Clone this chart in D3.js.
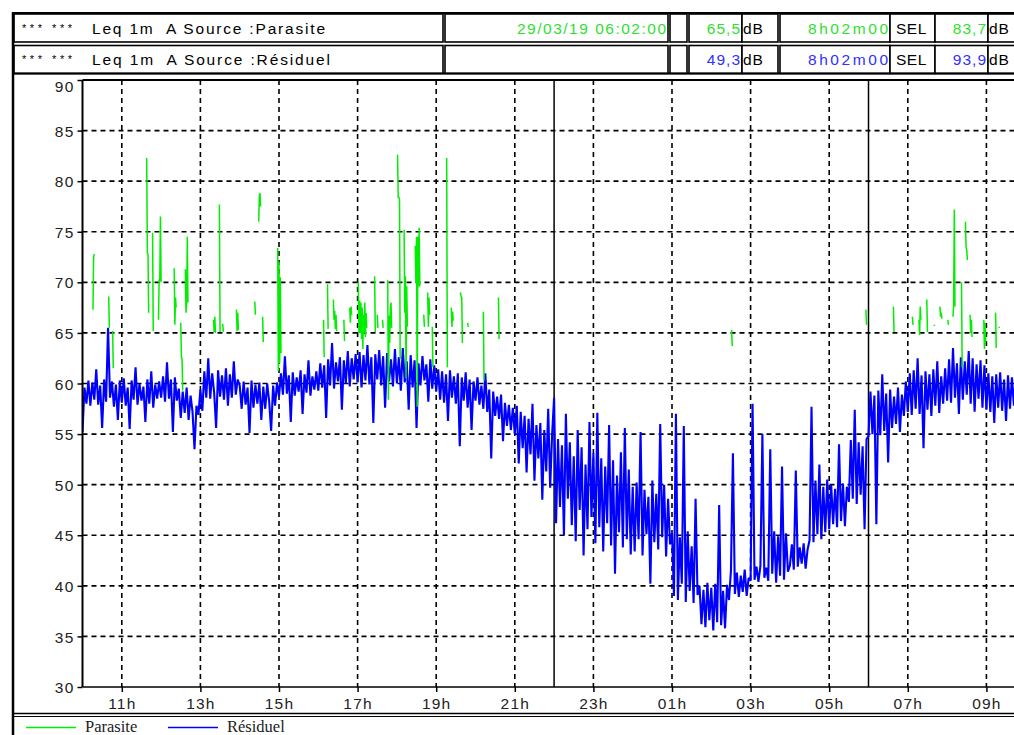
<!DOCTYPE html>
<html>
<head>
<meta charset="utf-8">
<script src="https://cdn.jsdelivr.net/npm/d3@7"></script>
<style>
body { margin: 0; background: #fff; }
svg { display: block; }
text { font-family: "Liberation Sans", Arial, sans-serif; }
</style>
</head>
<body>
<svg id="chart" width="1014" height="735"></svg>
<script>
// Résiduel : Leq read every 3 minutes from 10:00 (20 values per hour)
const residuelStep = 3;
const residuelLevel = [
    55.2, 59.6, 58.0, 60.3, 57.8, 60.1, 58.4, 61.4, 57.9, 59.8, 55.6, 60.4, 58.2, 65.5, 58.6, 60.2, 57.7, 59.9, 56.4, 60.3, // 10h
    58.1, 60.5, 57.8, 59.6, 55.5, 60.3, 58.4, 61.6, 57.9, 60.0, 58.3, 59.7, 56.2, 60.4, 58.0, 61.2, 57.6, 59.9, 58.5, 60.2, // 11h
    58.6, 60.7, 58.2, 62.1, 58.5, 60.4, 55.2, 60.6, 58.3, 59.5, 56.6, 59.2, 57.1, 59.6, 56.4, 58.8, 57.2, 53.5, 57.8, 56.9, // 12h
    59.4, 57.3, 61.2, 58.6, 62.5, 58.5, 61.0, 59.1, 55.6, 61.3, 58.7, 60.8, 58.4, 61.5, 57.8, 60.9, 58.6, 62.2, 58.9, 60.4, // 13h
    59.8, 57.5, 60.2, 57.9, 59.6, 55.1, 60.3, 57.6, 59.9, 58.0, 60.1, 56.4, 59.7, 57.5, 60.0, 58.2, 55.3, 59.8, 57.8, 60.1, // 14h
    58.7, 61.0, 58.9, 62.7, 59.0, 60.8, 56.2, 61.1, 58.8, 60.6, 59.2, 61.3, 57.0, 60.9, 59.1, 62.3, 58.8, 60.7, 59.4, 61.2, // 15h
    59.3, 62.0, 59.6, 61.8, 56.6, 62.4, 59.8, 64.0, 59.5, 62.1, 60.2, 62.6, 57.4, 62.3, 60.0, 63.2, 59.7, 62.5, 60.4, 62.9, // 16h
    60.1, 63.1, 59.6, 62.8, 60.3, 63.8, 59.9, 62.6, 56.1, 62.9, 60.4, 63.3, 59.8, 62.7, 57.6, 63.0, 60.2, 62.4, 59.7, 63.4, // 17h
    60.0, 62.6, 59.3, 63.5, 60.1, 62.2, 57.4, 62.8, 59.6, 62.3, 55.6, 62.0, 59.8, 62.7, 60.3, 61.9, 58.2, 62.4, 59.5, 61.8, // 18h
    59.2, 61.4, 58.4, 61.2, 58.1, 60.9, 56.3, 61.3, 58.6, 60.7, 58.0, 61.0, 53.8, 60.6, 58.3, 61.1, 57.6, 60.4, 55.4, 60.2, // 19h
    58.3, 60.6, 57.9, 59.8, 57.5, 61.0, 57.2, 59.4, 52.6, 59.2, 56.8, 58.7, 56.5, 58.9, 54.3, 58.1, 55.8, 57.9, 55.4, 57.6, // 20h
    55.0, 57.8, 52.1, 57.2, 53.6, 56.8, 51.2, 56.5, 53.0, 58.0, 50.4, 55.9, 52.6, 56.1, 48.5, 55.4, 51.3, 57.5, 49.7, 55.0, // 21h
    58.6, 46.2, 54.5, 47.8, 53.9, 45.0, 57.0, 48.6, 54.2, 46.0, 52.8, 44.4, 55.4, 47.5, 53.7, 43.0, 52.0, 45.6, 56.2, 46.8, // 22h
    53.1, 44.2, 57.1, 45.8, 52.6, 43.4, 51.8, 46.2, 55.9, 44.0, 52.4, 41.2, 50.9, 45.3, 53.2, 43.8, 55.6, 44.6, 51.5, 43.1, // 23h
    49.8, 43.4, 50.2, 44.6, 55.2, 43.0, 49.5, 45.1, 48.8, 40.2, 50.4, 44.3, 49.1, 43.6, 56.0, 44.8, 50.0, 42.9, 48.6, 44.1, // 00h
    45.2, 39.0, 57.0, 38.6, 44.8, 40.2, 55.8, 38.4, 45.4, 39.5, 43.9, 38.3, 48.6, 39.1, 40.0, 36.2, 39.6, 35.9, 40.3, 36.6, // 01h
    39.8, 35.6, 40.2, 36.4, 48.0, 36.1, 39.5, 35.8, 40.1, 38.6, 41.5, 53.1, 39.2, 41.3, 38.9, 41.0, 39.4, 41.6, 39.0, 40.8, // 02h
    40.5, 58.0, 40.6, 41.9, 40.4, 42.0, 55.0, 40.8, 41.8, 40.5, 53.5, 41.2, 45.4, 40.3, 44.9, 41.0, 51.8, 40.6, 45.2, 41.4, // 03h
    42.0, 44.1, 41.6, 51.4, 41.9, 43.8, 42.2, 44.2, 41.7, 43.6, 44.5, 57.7, 44.3, 50.4, 45.1, 52.0, 44.6, 49.8, 45.3, 50.5, // 04h
    45.6, 50.0, 46.1, 49.6, 45.8, 54.0, 46.4, 50.1, 45.9, 49.8, 48.3, 54.4, 48.6, 57.4, 48.1, 54.2, 49.0, 53.8, 45.6, 54.5, // 05h
    54.8, 59.2, 55.0, 58.8, 46.1, 59.3, 54.9, 60.9, 55.3, 59.0, 52.2, 59.4, 55.6, 58.7, 56.0, 59.6, 55.2, 58.9, 56.8, 60.2, // 06h
    57.2, 61.0, 56.9, 61.3, 57.5, 62.5, 57.0, 60.8, 53.6, 61.2, 57.4, 60.9, 56.8, 61.4, 57.8, 62.2, 57.1, 60.7, 58.0, 61.5, // 07h
    58.3, 62.4, 58.1, 63.5, 58.6, 62.0, 57.0, 62.6, 58.4, 62.2, 58.9, 63.2, 58.0, 62.5, 57.2, 61.9, 58.5, 62.3, 57.6, 61.8, // 08h
    57.4, 61.0, 57.2, 60.7, 56.1, 60.9, 57.6, 61.1, 57.3, 60.4, 56.3, 60.8, 57.5, 60.6, 57.8, 61.0, 57.2, 60.5, 57.9, 60.3  // 09h
];

// Parasite : runs of 1 minute values, [start minute after 10:00, values]
const parasiteRuns = [
    [16, [67.3, 72.5, 72.8]],
    [40, [68.6, 65.5]],
    [46, [65.2, 61.5]],
    [98, [82.3, 72.9, 72.8, 67.0]],
    [107, [74.9, 65.2]],
    [116, [66.3, 70.2, 70.2, 76.5, 70.0]],
    [140, [71.4, 65.8, 68.5, 67.5]],
    [150, [66.0, 62.6, 62.4, 59.3]],
    [157, [71.3, 67.0, 68.0, 74.5, 68.0]],
    [200, [66.3, 65.1, 66.6, 65.0]],
    [209, [77.7, 65.1]],
    [214, [65.9, 65.1]],
    [235, [67.3, 65.2, 67.0, 65.3]],
    [263, [68.1, 66.8]],
    [269, [76.0, 78.6, 78.8, 77.5]],
    [275, [66.6, 64.1]],
    [298, [73.4, 61.2, 72.0, 62.0, 70.5, 63.0]],
    [368, [66.3, 62.6]],
    [374, [69.8, 65.4]],
    [383, [68.3, 66.3, 67.2, 65.4, 66.8, 65.2]],
    [399, [66.3, 64.2]],
    [408, [67.5, 66.0, 67.6, 66.8]],
    [421, [70.0, 65.0, 68.2, 65.0, 68.0, 64.4, 67.5, 63.4, 66.8, 65.0, 68.0, 64.6, 67.0, 65.5]],
    [446, [70.6, 65.1]],
    [450, [66.8, 65.5]],
    [458, [66.3, 65.5]],
    [466, [70.2, 58.4, 66.7, 64.0, 67.4, 68.0, 65.5]],
    [481, [82.6, 78.4, 78.4, 78.2, 62.4]],
    [491, [75.2, 67.0, 70.6, 60.5, 69.6, 65.6]],
    [508, [73.6, 70.0, 74.5, 57.7, 74.5, 69.6, 75.4, 69.6]],
    [521, [66.8, 65.6]],
    [527, [69.0, 65.6, 68.5, 66.8]],
    [534, [65.6, 61.6]],
    [556, [82.3, 61.6]],
    [563, [67.5, 65.6, 67.1, 66.2]],
    [577, [69.0, 68.6, 68.5, 64.0]],
    [588, [66.0, 65.6]],
    [612, [67.1, 60.3]],
    [635, [68.5, 64.4]],
    [991, [65.3, 63.7]],
    [1196, [67.3, 65.8]],
    [1238, [67.6, 65.1]],
    [1267, [66.6, 65.8]],
    [1277, [66.3, 64.8, 67.6, 66.3]],
    [1289, [68.3, 65.1]],
    [1300, [65.8, 65.7]],
    [1309, [67.6, 66.6, 67.0, 66.4]],
    [1321, [66.3, 65.8]],
    [1329, [66.6, 67.8, 77.2, 67.6]],
    [1342, [70.0, 61.6]],
    [1348, [76.0, 73.4, 73.2, 72.2]],
    [1355, [66.8, 65.0, 66.3, 64.6]],
    [1376, [66.3, 63.4, 66.0, 64.1]],
    [1394, [67.0, 63.5]],
    [1399, [65.6, 65.5]]
];

const tickHours = [11, 13, 15, 17, 19, 21, 23, 1, 3, 5, 7, 9];
const tickLabels = ["11h", "13h", "15h", "17h", "19h", "21h", "23h", "01h", "03h", "05h", "07h", "09h"];
const nightHours = [22, 6];
const levelTicks = [30, 35, 40, 45, 50, 55, 60, 65, 70, 75, 80, 85, 90];

// header table
const sourceNames = ["Parasite", "Résiduel"];
const periodStart = ["29/03/19 06:02:00", ""];
const leqValues = ["65,5", "49,3"];
const durations = ["8h02m00", "8h02m00"];
const selValues = ["83,7", "93,9"];

const green = "#00ee00", blue = "#0000ff";
const textGreen = "#2fe02f", textBlue = "#3030ff";

const svg = d3.select("#chart");

function minutesOf(h) {
    return ((h - 10 + 24) % 24) * 60;
}

const x = d3.scaleLinear().domain([0, 1440]).range([82.5, 82.5 + 24 * 39.3]);
const y = d3.scaleLinear().domain([30, 90]).range([687, 80]);

// ---- header table
const rowTop = [14, 45.5], rowH = 28;
const cells = [
    {x0: 14, x1: 443}, {x0: 445, x1: 668}, {x0: 670, x1: 687},
    {x0: 689, x1: 742}, {x0: 742, x1: 778}, {x0: 780, x1: 890},
    {x0: 890, x1: 935}, {x0: 935, x1: 988}, {x0: 988, x1: 1030}
];

sourceNames.forEach(function(name, r) {
    const g = svg.append("g").attr("transform", "translate(0," + rowTop[r] + ")");
    const col = r == 0 ? textGreen : textBlue;
    g.selectAll("rect").data(cells).enter().append("rect")
        .attr("x", d => d.x0).attr("y", 0)
        .attr("width", d => d.x1 - d.x0).attr("height", rowH)
        .attr("fill", "#fff").attr("stroke", "#000").attr("stroke-width", 1.6);
    const by = 19.5;
    g.append("text").attr("x", 22).attr("y", by - 2).style("font-size", "11px")
        .attr("textLength", 50).attr("lengthAdjust", "spacing").text("*** ***");
    g.append("text").attr("x", 92).attr("y", by).style("font-size", "15.5px").style("white-space", "pre")
        .attr("textLength", r == 0 ? 233 : 238).attr("lengthAdjust", "spacing")
        .text("Leq 1m  A Source :" + name);
    if (periodStart[r] != "") {
        g.append("text").attr("x", 666).attr("y", by).attr("text-anchor", "end").attr("fill", col)
            .style("font-size", "15.5px").attr("textLength", 149).attr("lengthAdjust", "spacing")
            .text(periodStart[r]);
    }
    g.append("text").attr("x", 741).attr("y", by).attr("text-anchor", "end").attr("fill", col)
        .style("font-size", "15.5px").style("letter-spacing", "1px").text(leqValues[r]);
    g.append("text").attr("x", 743).attr("y", by).style("font-size", "15.5px").style("letter-spacing", "1px").text("dB");
    g.append("text").attr("x", 888).attr("y", by).attr("text-anchor", "end").attr("fill", col)
        .style("font-size", "15.5px").attr("textLength", 80).attr("lengthAdjust", "spacing").text(durations[r]);
    g.append("text").attr("x", 896).attr("y", by).style("font-size", "15.5px").style("letter-spacing", "0.5px").text("SEL");
    g.append("text").attr("x", 987).attr("y", by).attr("text-anchor", "end").attr("fill", col)
        .style("font-size", "15.5px").style("letter-spacing", "1px").text(selValues[r]);
    g.append("text").attr("x", 989).attr("y", by).style("font-size", "15.5px").style("letter-spacing", "1px").text("dB");
});

// outer frame
svg.append("line").attr("x1", 13).attr("x2", 13).attr("y1", 12.5).attr("y2", 735)
    .attr("stroke", "#000").attr("stroke-width", 2.5);
svg.append("line").attr("x1", 12).attr("x2", 1014).attr("y1", 13).attr("y2", 13)
    .attr("stroke", "#000").attr("stroke-width", 2);
svg.append("line").attr("x1", 12).attr("x2", 1014).attr("y1", 73.5).attr("y2", 73.5)
    .attr("stroke", "#000").attr("stroke-width", 2);

// ---- grid
const grid = svg.append("g");
grid.selectAll(".hgrid").data(levelTicks.filter(v => v > 30 && v < 90)).enter().append("line")
    .attr("x1", x(0)).attr("x2", 1014)
    .attr("y1", d => y(d)).attr("y2", d => y(d))
    .attr("stroke", "#000").attr("stroke-width", 1.6).attr("stroke-dasharray", "5,4");
grid.selectAll(".vgrid").data(tickHours).enter().append("line")
    .attr("x1", d => x(minutesOf(d))).attr("x2", d => x(minutesOf(d)))
    .attr("y1", y(90)).attr("y2", y(30))
    .attr("stroke", "#000").attr("stroke-width", 1.6).attr("stroke-dasharray", "5,4");
grid.selectAll(".night").data(nightHours).enter().append("line")
    .attr("x1", d => x(minutesOf(d))).attr("x2", d => x(minutesOf(d)))
    .attr("y1", y(90)).attr("y2", y(30))
    .attr("stroke", "#000").attr("stroke-width", 1.5);

// ---- series
svg.append("clipPath").attr("id", "plotClip").append("rect")
    .attr("x", x(0)).attr("y", y(90)).attr("width", 1014 - x(0)).attr("height", y(30) - y(90));
const plot = svg.append("g").attr("clip-path", "url(#plotClip)");

const line = d3.line().x(d => x(d[0])).y(d => y(d[1]));

plot.append("path")
    .datum(residuelLevel.map((v, i) => [i * residuelStep, v]))
    .attr("d", line)
    .attr("fill", "none").attr("stroke", blue).attr("stroke-width", 2.1)
    .attr("stroke-linejoin", "miter").attr("stroke-miterlimit", 2);

plot.selectAll(".parasite").data(parasiteRuns).enter().append("path")
    .attr("d", d => line(d[1].map((v, i) => [d[0] + i, v])))
    .attr("fill", "none").attr("stroke", green).attr("stroke-width", 1.5);

// ---- axes
const yAxis = svg.append("g").attr("transform", "translate(" + x(0) + ",0)")
    .call(d3.axisLeft(y).tickValues(levelTicks).tickSize(5).tickPadding(3));
const xAxis = svg.append("g").attr("transform", "translate(0," + y(30) + ")")
    .call(d3.axisBottom(x).tickValues(tickHours.map(minutesOf)).tickSize(5).tickPadding(6)
        .tickFormat((d, i) => tickLabels[i]));
[yAxis, xAxis].forEach(function(a) {
    a.select(".domain").remove();
    a.selectAll(".tick line").attr("stroke", "#000").attr("stroke-width", 1.5);
    a.selectAll("text").attr("fill", "#222").style("font-size", "15.5px").style("letter-spacing", "1.2px")
        .style("font-family", "'Liberation Sans', Arial, sans-serif");
});
yAxis.selectAll("text").attr("dy", d => d == 90 ? "0.75em" : "0.36em");

// plot frame
svg.append("line").attr("x1", x(0)).attr("x2", x(0)).attr("y1", y(90)).attr("y2", y(30))
    .attr("stroke", "#000").attr("stroke-width", 2);
svg.append("line").attr("x1", x(0)).attr("x2", 1014).attr("y1", y(90)).attr("y2", y(90))
    .attr("stroke", "#000").attr("stroke-width", 2);
svg.append("line").attr("x1", x(0)).attr("x2", 1014).attr("y1", y(30)).attr("y2", y(30))
    .attr("stroke", "#000").attr("stroke-width", 1.6);

// ---- legend box
svg.append("line").attr("x1", 12).attr("x2", 1014).attr("y1", 713.5).attr("y2", 713.5)
    .attr("stroke", "#000").attr("stroke-width", 1.6);
svg.append("line").attr("x1", 12).attr("x2", 1014).attr("y1", 716.5).attr("y2", 716.5)
    .attr("stroke", "#000").attr("stroke-width", 1.2);

const legend = svg.append("g").attr("transform", "translate(0,727.5)");
legend.selectAll("g").data(sourceNames.map((s, i) => ({name: s, color: i == 0 ? green : blue, x0: i == 0 ? 26 : 168})))
    .enter().append("g")
    .each(function(d) {
        d3.select(this).append("line").attr("x1", d.x0).attr("x2", d.x0 + 50).attr("y1", 0).attr("y2", 0)
            .attr("stroke", d.color).attr("stroke-width", 1.6);
        d3.select(this).append("text").attr("x", d.x0 + 59).attr("y", 4)
            .style("font-family", "'Liberation Serif', 'Times New Roman', serif").style("font-size", "16.5px")
            .attr("fill", "#222").text(d.name);
    });
</script>
</body>
</html>
